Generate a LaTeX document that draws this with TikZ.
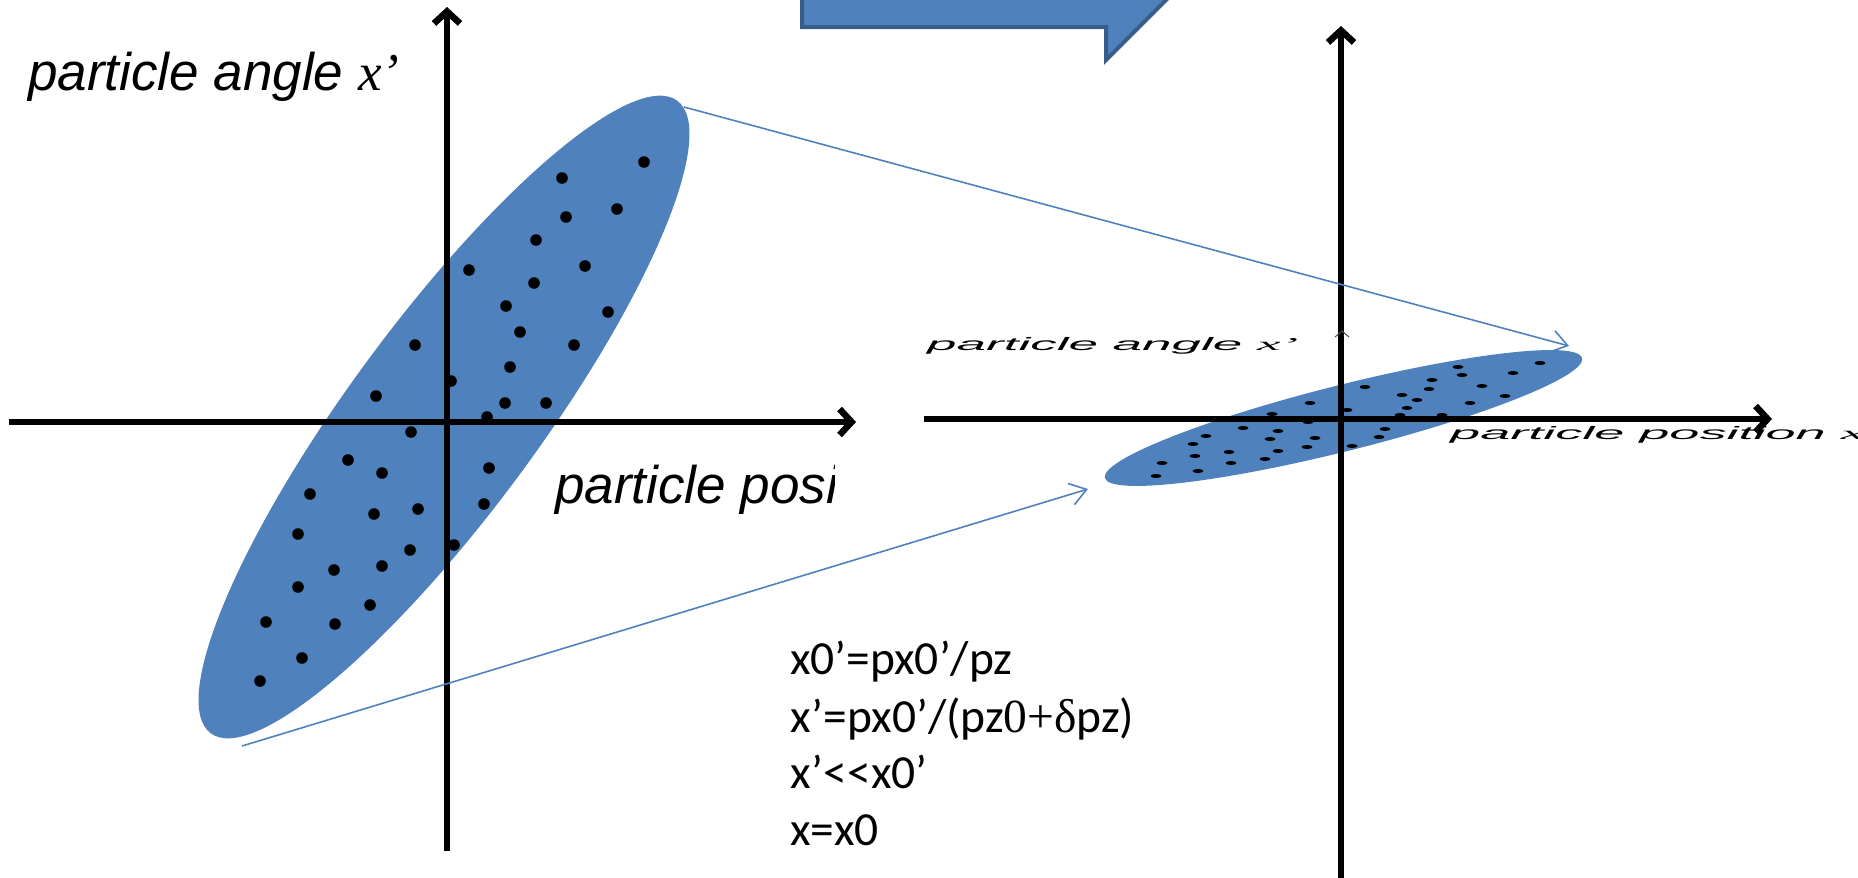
\documentclass[tikz,border=0pt]{standalone}
\usepackage{fontspec}
\usetikzlibrary{arrows.meta,shapes.geometric}
\newfontfamily\arialf{Liberation Sans}
\newfontfamily\seriff{Liberation Serif}
\newfontfamily\calibf{Carlito}
\definecolor{pblue}{HTML}{4F81BD}
\definecolor{pborder}{HTML}{385D8A}
\begin{document}
\begin{tikzpicture}[x=1pt,y=-1pt,
  axis/.style={line width=6.5pt, -{Straight Barb[length=12pt,width=26pt]}},
  link/.style={pblue, line width=1.6pt, -{Straight Barb[length=16pt,width=22pt]}},
  blob/.style={ellipse, fill=pblue, inner sep=0pt, draw=none},
  lbl/.style={inner sep=0pt, anchor=base west, font=\arialf\itshape\fontsize{53}{60}\selectfont},
  eq/.style={inner sep=0pt, anchor=base west, font=\calibf\fontsize{47.5}{56}\selectfont}]
\useasboundingbox (0,0) rectangle (1858,878);
\clip (0,0) rectangle (1858,878);

% block arrow at the top
\draw[fill=pblue, draw=pborder, line width=4pt, line join=miter]
  (802,-60) -- (802,27) -- (1106,27) -- (1106,60) -- (1206,-40) -- cycle;

% ---------- left plot ----------
\node[blob, minimum width=786pt, minimum height=190pt, rotate=53.6] (E1) at (444,417) {};
\coordinate (LyB) at (447,851); \coordinate (LyT) at (447,7);
\coordinate (LxL) at (9,422);   \coordinate (LxR) at (856,422);
\draw[axis] (LyB) -- (LyT);
\draw[axis] (LxL) -- (LxR);
\foreach \x/\y in {644/162,562/178,566/217,617/209,536/240,469/270,585/266,534/283,
  506/306,608/312,415/345,520/332,574/345,510/367,451/381,376/396,505/403,546/403,
  487/417,411/432,348/460,382/473,489/468,310/494,418/509,374/514,484/504,298/534,
  454/545,410/550,382/566,334/570,298/587,370/605,266/622,335/624,302/658,260/681}
  \fill (\x,\y) circle[radius=5.8pt];
\node[lbl] (t1) at (28,90) {particle angle {\seriff\itshape x’}};
\begin{scope}
  \clip (540,440) rectangle (834,530);
  \node[lbl] (t2) at (555,503) {particle posi};
\end{scope}

% ---------- right plot ----------
\node[blob, minimum width=492pt, minimum height=66pt, rotate=14.1] (E2) at (1343.5,418) {};
\coordinate (RyB) at (1341,878); \coordinate (RyT) at (1341,26);
\coordinate (RxL) at (924,419);  \coordinate (RxR) at (1772,419);
\draw[axis] (RyB) -- (RyT);
\draw[axis] (RxL) -- (RxR);
\draw[line width=1pt, black!70] (1335,337) -- (1342,331) -- (1349,337);
\foreach \x/\y in {1458/367,1540/363,1462/375,1513/373,1432/380,1365/387,1482/386,
  1429/389,1402/395,1505/396,1310/403,1417/400,1470/403,1407/408,1347/410,1272/414,
  1400/415,1442/415,1308/422,1243/428,1278/431,1385/429,1206/436,1315/438,1270/439,
  1379/437,1193/444,1352/446,1307/447,1278/451,1229/452,1195/456,1265/459,1162/463,
  1231/463,1198/471,1156/476}
  \fill (\x,\y) ellipse[x radius=5.5pt, y radius=2pt];
\node[lbl] (t3) at (927,350) {\scalebox{1.0}[0.34]{particle angle {\seriff\itshape x’}}};
\node[lbl] (t4) at (1450,439) {\scalebox{1.02}[0.34]{particle position {\seriff\itshape x}}};

% ---------- connectors ----------
\coordinate (A1) at (684,107); \coordinate (A2) at (1569,346);
\coordinate (B1) at (242,746); \coordinate (B2) at (1088,489);
\draw[link] (A1) -- (A2);
\draw[link] (B1) -- (B2);

% ---------- equations ----------
\node[eq] (q1) at (790,674) {x0’=px0’/pz};
\node[eq] (q2) at (790,732) {x’=px0’/(pz{\seriff 0+δ}pz)};
\node[eq] (q3) at (790,788) {x’<<x0’};
\node[eq] (q4) at (790,845) {x=x0};
\end{tikzpicture}
\end{document}
